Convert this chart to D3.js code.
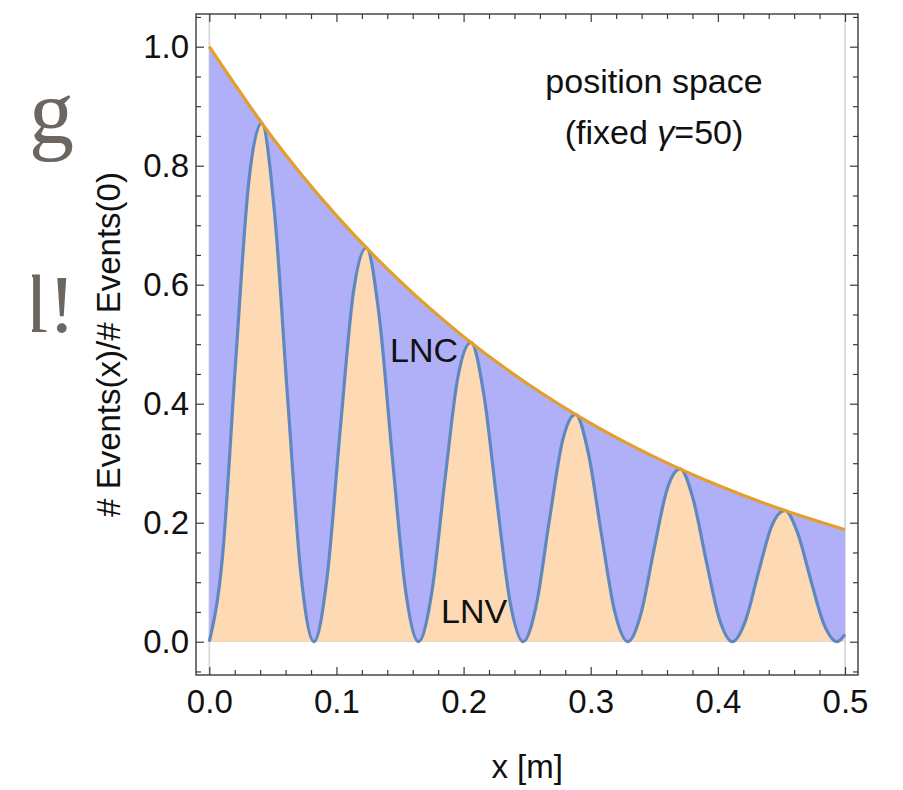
<!DOCTYPE html>
<html>
<head>
<meta charset="utf-8">
<script src="https://cdn.jsdelivr.net/npm/d3@7/dist/d3.min.js"></script>
<style>
  html, body { margin: 0; padding: 0; background: #fff; }
  svg { display: block; }
</style>
</head>
<body>
<svg id="chart" width="903" height="790"></svg>
<script>
// Position samples x [m]
const xSamples = [
  0, 0.0103, 0.0206, 0.0309, 0.0412, 0.0514, 0.0617, 0.0720,
  0.0823, 0.0926, 0.1029, 0.1132, 0.1235, 0.1337, 0.1440, 0.1543,
  0.1646, 0.1749, 0.1852, 0.1955, 0.2058, 0.2160, 0.2263, 0.2366,
  0.2469, 0.2572, 0.2675, 0.2778, 0.2881, 0.2983, 0.3086, 0.3189,
  0.3292, 0.3395, 0.3498, 0.3601, 0.3704, 0.3806, 0.3909, 0.4012,
  0.4115, 0.4218, 0.4321, 0.4424, 0.4527, 0.4629, 0.4732, 0.4835,
  0.4938, 0.5
];
// LNV fraction of events at each sample
const lnvFraction = [
  0, 0.1415, 0.4668, 0.7700, 0.8716, 0.7189, 0.4069, 0.1151,
  0, 0.1075, 0.3546, 0.5849, 0.6621, 0.5461, 0.3091, 0.0874,
  0, 0.0816, 0.2694, 0.4444, 0.5030, 0.4148, 0.2348, 0.0664,
  0, 0.0620, 0.2046, 0.3376, 0.3821, 0.3152, 0.1784, 0.0505,
  0, 0.0471, 0.1555, 0.2564, 0.2903, 0.2394, 0.1355, 0.0383,
  0, 0.0358, 0.1181, 0.1948, 0.2205, 0.1819, 0.1029, 0.0291,
  0, 0.012
];
// Total surviving events (upper envelope)
const envelopeX = [0, 0.05, 0.1, 0.15, 0.2, 0.25, 0.3, 0.35, 0.4, 0.45, 0.5];
const totalFraction = [1.0, 0.8462, 0.7161, 0.6059, 0.5127, 0.4339, 0.3671, 0.3107, 0.2629, 0.2225, 0.1883];

// Axis ticks
const xMajorTicks = [0, 0.1, 0.2, 0.3, 0.4, 0.5];
const xTickLabels = ["0.0", "0.1", "0.2", "0.3", "0.4", "0.5"];
const yMajorTicks = [0, 0.2, 0.4, 0.6, 0.8, 1.0];
const yTickLabels = ["0.0", "0.2", "0.4", "0.6", "0.8", "1.0"];

const SANS = "'Liberation Sans', Arial, Helvetica, sans-serif";
const SERIF = "'Liberation Serif', 'Times New Roman', serif";

const svg = d3.select("#chart").style("font-family", SANS);
const frame = { left: 196, right: 858, top: 14, bottom: 675 };

const x = d3.scaleLinear().domain([0, 0.5]).range([209.3, 845]);
const y = d3.scaleLinear().domain([0, 1]).range([641.7, 46.7]);

const xLo = x.invert(frame.left), xHi = x.invert(frame.right);
const yLo = y.invert(frame.bottom), yHi = y.invert(frame.top);
const near = (a, b) => Math.abs(a - b) < 1e-9;
const xMinorTicks = d3.range(-20, 30).map(i => +(i * 0.02).toFixed(2))
  .filter(v => v >= xLo && v <= xHi && !xMajorTicks.some(m => near(m, v)));
const yMinorTicks = d3.range(-5, 25).map(i => +(i * 0.05).toFixed(2))
  .filter(v => v >= yLo && v <= yHi && !yMajorTicks.some(m => near(m, v)));

const defs = svg.append("defs");
// Clip to the plot frame
defs.append("clipPath").attr("id", "plotClip")
  .append("rect")
  .attr("x", frame.left).attr("y", frame.top)
  .attr("width", frame.right - frame.left).attr("height", frame.bottom - frame.top);

const plot = svg.append("g").attr("clip-path", "url(#plotClip)");

// Light vertical guide lines at the ends of the x range
plot.selectAll("line.guide").data([0, 0.5]).enter().append("line")
  .attr("class", "guide")
  .attr("x1", d => x(d)).attr("x2", d => x(d))
  .attr("y1", frame.top).attr("y2", frame.bottom)
  .attr("stroke", "#d9d9d9").attr("stroke-width", 1.8);

const envData = envelopeX.map((v, i) => [v, totalFraction[i]]);
const lnvData = xSamples.map((v, i) => [v, lnvFraction[i]]);

// LNC region: between the oscillation and the envelope
plot.append("path")
  .datum(envData)
  .attr("d", d3.area().x(d => x(d[0])).y0(y(0)).y1(d => y(d[1])).curve(d3.curveMonotoneX))
  .attr("fill", "#b0b0f9");

// LNV region: under the oscillation
plot.append("path")
  .datum(lnvData)
  .attr("d", d3.area().x(d => x(d[0])).y0(y(0)).y1(d => y(d[1])).curve(d3.curveMonotoneX))
  .attr("fill", "#fdd9b4");

plot.append("path")
  .datum(lnvData)
  .attr("d", d3.line().x(d => x(d[0])).y(d => y(d[1])).curve(d3.curveMonotoneX))
  .attr("fill", "none").attr("stroke", "#5f88c0").attr("stroke-width", 3.2)
  .attr("stroke-linejoin", "round");

plot.append("path")
  .datum(envData)
  .attr("d", d3.line().x(d => x(d[0])).y(d => y(d[1])).curve(d3.curveMonotoneX))
  .attr("fill", "none").attr("stroke", "#e39e2c").attr("stroke-width", 3.2);

// Region labels
svg.append("text").attr("x", 390).attr("y", 362)
  .attr("font-size", 34).attr("fill", "#111").text("LNC");
svg.append("text").attr("x", 441).attr("y", 623)
  .attr("font-size", 34).attr("fill", "#111").text("LNV");

// Frame
svg.append("rect")
  .attr("x", frame.left).attr("y", frame.top)
  .attr("width", frame.right - frame.left).attr("height", frame.bottom - frame.top)
  .attr("fill", "none").attr("stroke", "#3a3a3a").attr("stroke-width", 1.4);

function styleAxis(g) {
  g.select(".domain").remove();
  g.selectAll(".tick line").attr("stroke", "#3a3a3a").attr("stroke-width", 1.2);
  g.selectAll(".tick text").attr("fill", "#111").attr("font-size", 33)
    .style("font-family", SANS);
}

const fmtX = d => xTickLabels[xMajorTicks.findIndex(m => near(m, d))];
const fmtY = d => yTickLabels[yMajorTicks.findIndex(m => near(m, d))];

// Left axis
svg.append("g").attr("transform", `translate(${frame.left},0)`)
  .call(d3.axisLeft(y).tickValues(yMajorTicks).tickSize(-8).tickPadding(7).tickFormat(fmtY))
  .call(styleAxis);
svg.append("g").attr("transform", `translate(${frame.left},0)`)
  .call(d3.axisLeft(y).tickValues(yMinorTicks).tickSize(-5).tickFormat(""))
  .call(styleAxis);
// Right axis
svg.append("g").attr("transform", `translate(${frame.right},0)`)
  .call(d3.axisRight(y).tickValues(yMajorTicks).tickSize(-8).tickFormat(""))
  .call(styleAxis);
svg.append("g").attr("transform", `translate(${frame.right},0)`)
  .call(d3.axisRight(y).tickValues(yMinorTicks).tickSize(-5).tickFormat(""))
  .call(styleAxis);
// Bottom axis
svg.append("g").attr("transform", `translate(0,${frame.bottom})`)
  .call(d3.axisBottom(x).tickValues(xMajorTicks).tickSize(-8).tickPadding(15).tickFormat(fmtX))
  .call(styleAxis);
svg.append("g").attr("transform", `translate(0,${frame.bottom})`)
  .call(d3.axisBottom(x).tickValues(xMinorTicks).tickSize(-5).tickFormat(""))
  .call(styleAxis);
// Top axis
svg.append("g").attr("transform", `translate(0,${frame.top})`)
  .call(d3.axisTop(x).tickValues(xMajorTicks).tickSize(-8).tickFormat(""))
  .call(styleAxis);
svg.append("g").attr("transform", `translate(0,${frame.top})`)
  .call(d3.axisTop(x).tickValues(xMinorTicks).tickSize(-5).tickFormat(""))
  .call(styleAxis);

// Axis titles
svg.append("text")
  .attr("x", (x(0) + x(0.5)) / 2).attr("y", 778)
  .attr("text-anchor", "middle").attr("font-size", 33).attr("fill", "#111")
  .text("x [m]");
svg.append("text")
  .attr("transform", `translate(120,${(frame.top + frame.bottom) / 2}) rotate(-90)`)
  .attr("text-anchor", "middle").attr("font-size", 33).attr("fill", "#111")
  .text("# Events(x)/# Events(0)");

// Inset caption
svg.append("text").attr("x", 654).attr("y", 93)
  .attr("text-anchor", "middle").attr("font-size", 34).attr("fill", "#111")
  .text("position space");
const cap = svg.append("text").attr("x", 654).attr("y", 144)
  .attr("text-anchor", "middle").attr("font-size", 34).attr("fill", "#111");
cap.append("tspan").text("(fixed ");
cap.append("tspan").attr("font-style", "italic").text("γ");
cap.append("tspan").text("=50)");

// Serif lettering at the left edge
svg.append("text").attr("x", 29).attr("y", 143)
  .style("font-family", SERIF)
  .attr("font-size", 90).attr("fill", "#6b6660").text("g");
defs.append("clipPath").attr("id", "edgeClip")
  .append("rect").attr("x", 32).attr("y", 240).attr("width", 80).attr("height", 120);
svg.append("text").attr("x", 25).attr("y", 332)
  .attr("clip-path", "url(#edgeClip)")
  .style("font-family", SERIF)
  .attr("font-size", 83).attr("fill", "#6b6660").text("l!");
</script>
</body>
</html>
